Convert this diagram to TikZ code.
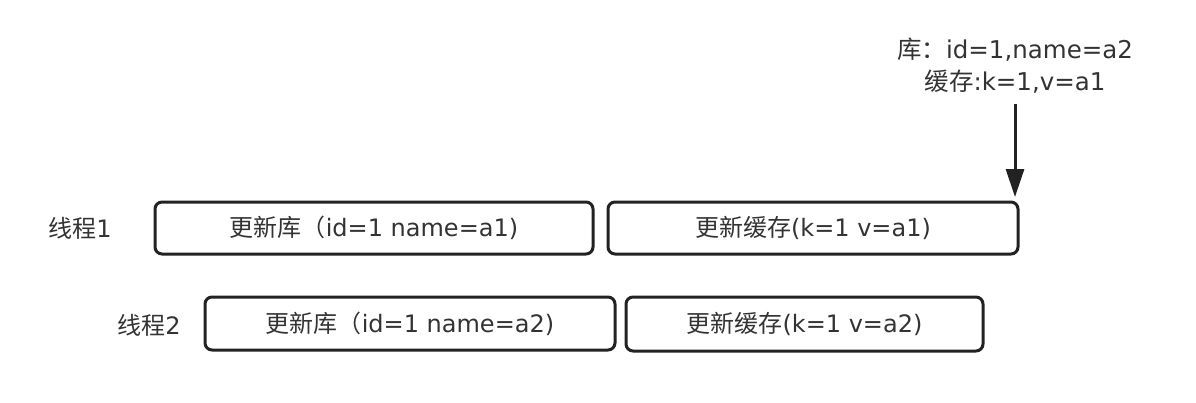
\documentclass[tikz,border=0pt]{standalone}
\usepackage{fontspec}
\setmainfont{DejaVu Sans}
\newfontfamily\cjk{Noto Sans CJK SC}
\usetikzlibrary{arrows.meta}
\definecolor{txt}{HTML}{333333}
\definecolor{edge}{HTML}{222222}
\tikzset{
  taskbox/.style={draw=edge, line width=3pt, rounded corners=7pt, inner sep=0pt, text=txt, font=\fontsize{24}{28}\selectfont},
  lbl/.style={text=txt, font=\fontsize{24}{28}\selectfont, inner sep=0pt},
}
\begin{document}
\begin{tikzpicture}[x=1pt,y=-1pt]
\useasboundingbox (0,0) rectangle (1196,402);
\node[lbl] (t1) at (80,228) {{\cjk 线程}1};
\node[lbl] (t2) at (149,325) {{\cjk 线程}2};
\node[taskbox, minimum width=438pt, minimum height=52pt] (a) at (374,228) {{\cjk 更新库（}id=1 name=a1)};
\node[taskbox, minimum width=410pt, minimum height=52pt] (b) at (813,228) {{\cjk 更新缓存}(k=1 v=a1)};
\node[taskbox, minimum width=410pt, minimum height=53pt] (c) at (410,323.5) {{\cjk 更新库（}id=1 name=a2)};
\node[taskbox, minimum width=357pt, minimum height=54pt] (d) at (804.5,324) {{\cjk 更新缓存}(k=1 v=a2)};
\node[lbl, align=center, font=\fontsize{24.5}{32}\selectfont] (top) at (1015,66) {{\cjk 库：}id=1,name=a2\\{\cjk 缓存}:k=1,v=a1};
\coordinate (tip) at (1015,197);
\draw[edge, line width=3pt, -{Triangle[width=18pt,length=28pt]}] (top.south -| tip) ++(0,10) -- (tip);
\end{tikzpicture}
\end{document}
